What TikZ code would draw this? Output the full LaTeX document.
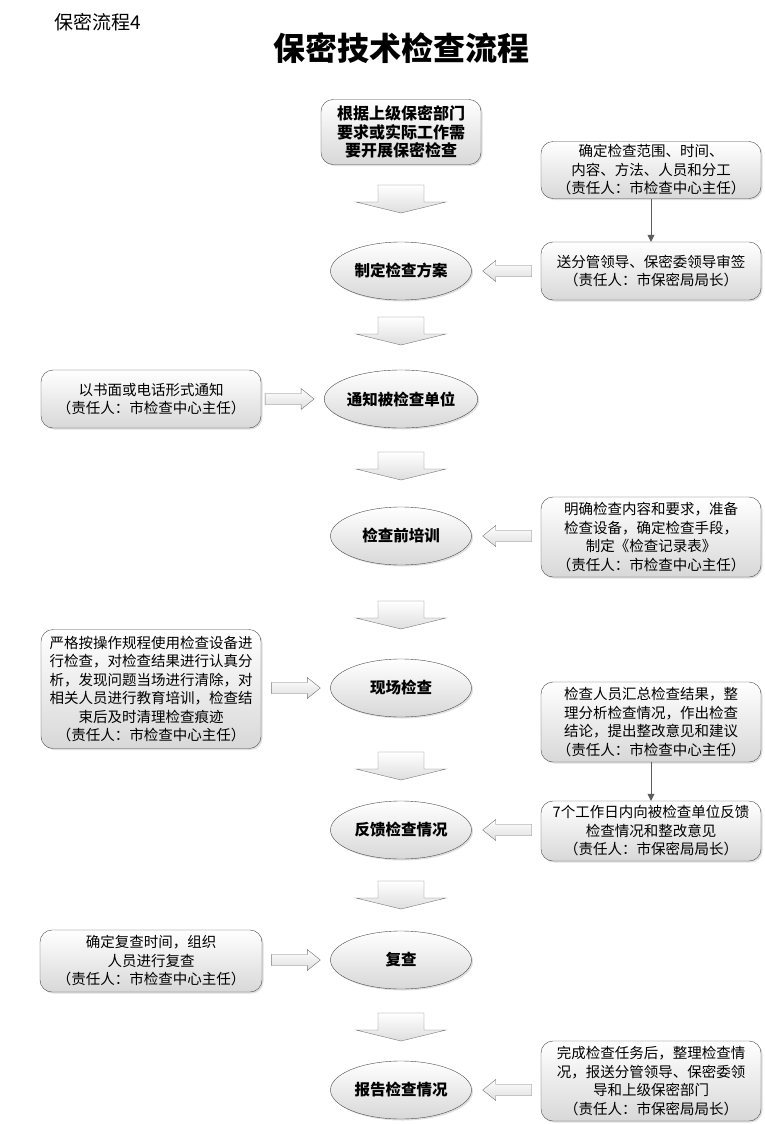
\documentclass[tikz,border=0pt]{standalone}
\usepackage{fontspec}
\setmainfont{Noto Sans CJK SC}
\usetikzlibrary{shapes.geometric,shadows,arrows.meta}
\definecolor{edge}{HTML}{4A4A4A}
\definecolor{arredge}{HTML}{767676}
\definecolor{shade}{HTML}{D8D8D8}
\tikzset{
  pics/downarr/.style={code={
    \draw[blockarr] (-23,0) -- (23,0) -- (23,17) -- (45,17) -- (0,28)
      -- (-45,17) -- (-23,17) -- cycle;
  }},
  pics/leftarr/.style={code={
    \draw[blockarr] (0,0) -- (13,-10.5) -- (13,-5.5) -- (49,-5.5)
      -- (49,5.5) -- (13,5.5) -- (13,10.5) -- cycle;
  }},
  pics/rightarr/.style={code={
    \draw[blockarr] (0,0) -- (-13,-10.5) -- (-13,-5.5) -- (-49,-5.5)
      -- (-49,5.5) -- (-13,5.5) -- (-13,10.5) -- cycle;
  }}
}
\begin{document}
\begin{tikzpicture}[x=1pt,y=-1pt,
    note/.style={draw=edge,rounded corners=12pt,top color=white,bottom color=shade,
      drop shadow={shadow xshift=1.5pt,shadow yshift=-1.5pt,opacity=0.25},
      minimum width=220pt,align=center,inner sep=2pt,
      font=\fontsize{14.5}{18.5}\selectfont},
    src/.style={note,minimum width=160pt,font=\bfseries\fontsize{16}{18.5}\selectfont},
    stage/.style={ellipse,draw=edge,top color=white,bottom color=shade,
      drop shadow={shadow xshift=1.5pt,shadow yshift=-1.5pt,opacity=0.25},
      minimum width=141pt,minimum height=58pt,inner sep=0pt,
      font=\bfseries\fontsize{15.5}{18}\selectfont},
    blockarr/.style={draw=arredge,top color=white,bottom color=shade!85,line join=miter},
    thinarr/.style={draw=edge!90,-{Triangle[width=7pt,length=7pt]}}]
\useasboundingbox (0,0) rectangle (765,1124);

% titles
\node[anchor=west,font=\fontsize{19}{21}\selectfont] (tag) at (51,22) {保密流程4};
\node[font=\bfseries\fontsize{32}{35}\selectfont] (title) at (401,48) {保密技术检查流程};

% main column
\node[src,minimum height=65pt] (start) at (401,132) {根据上级保密部门\\要求或实际工作需\\要开展保密检查};
\node[stage] (plan) at (401,271) {制定检查方案};
\node[stage] (notify) at (401,399) {通知被检查单位};
\node[stage] (train) at (401,536) {检查前培训};
\node[stage] (onsite) at (401,688) {现场检查};
\node[stage] (feedback) at (401,830) {反馈检查情况};
\node[stage] (recheck) at (401,960) {复查};
\node[stage] (report) at (401,1090) {报告检查情况};

% right notes
\node[note,minimum height=57pt] (scope) at (651,170) {确定检查范围、时间、\\内容、方法、人员和分工\\（责任人：市检查中心主任）};
\node[note,minimum height=58pt] (approve) at (651,271) {送分管领导、保密委领导审签\\（责任人：市保密局局长）};
\node[note,minimum height=80pt] (prepare) at (651,537) {明确检查内容和要求，准备\\检查设备，确定检查手段，\\制定《检查记录表》\\（责任人：市检查中心主任）};
\node[note,minimum height=80pt] (summary) at (651,722) {检查人员汇总检查结果，整\\理分析检查情况，作出检查\\结论，提出整改意见和建议\\（责任人：市检查中心主任）};
\node[note,minimum height=60pt] (reply) at (651,831) {7个工作日内向被检查单位反馈\\检查情况和整改意见\\（责任人：市保密局局长）};
\node[note,minimum height=80pt] (finish) at (651,1081) {完成检查任务后，整理检查情\\况，报送分管领导、保密委领\\导和上级保密部门\\（责任人：市保密局局长）};

% left notes
\node[note,minimum height=58pt] (inform) at (151,399) {以书面或电话形式通知\\（责任人：市检查中心主任）};
\node[note,minimum height=119pt] (inspect) at (151,689) {严格按操作规程使用检查设备进\\行检查，对检查结果进行认真分\\析，发现问题当场进行清除，对\\相关人员进行教育培训，检查结\\束后及时清理检查痕迹\\（责任人：市检查中心主任）};
\node[note,minimum height=62pt,minimum width=222pt] (review) at (151,961) {确定复查时间，组织\\人员进行复查\\（责任人：市检查中心主任）};

% down arrows
\foreach \y in {185,317,452,601,752,881,1013}
  \pic at (401,\y) {downarr};

% side arrows
\pic at ([xshift=11pt]plan.east) {leftarr};
\pic at ([xshift=11pt]train.east) {leftarr};
\pic at ([xshift=11pt]feedback.east) {leftarr};
\pic at ([xshift=11pt]report.east) {leftarr};
\pic at ([xshift=-10pt]notify.west) {rightarr};
\pic at ([xshift=-10pt]onsite.west) {rightarr};
\pic at ([xshift=-10pt]recheck.west) {rightarr};

% thin arrows
\draw[thinarr] (scope) -- (approve);
\draw[thinarr] (summary) -- (reply);
\end{tikzpicture}
\end{document}
